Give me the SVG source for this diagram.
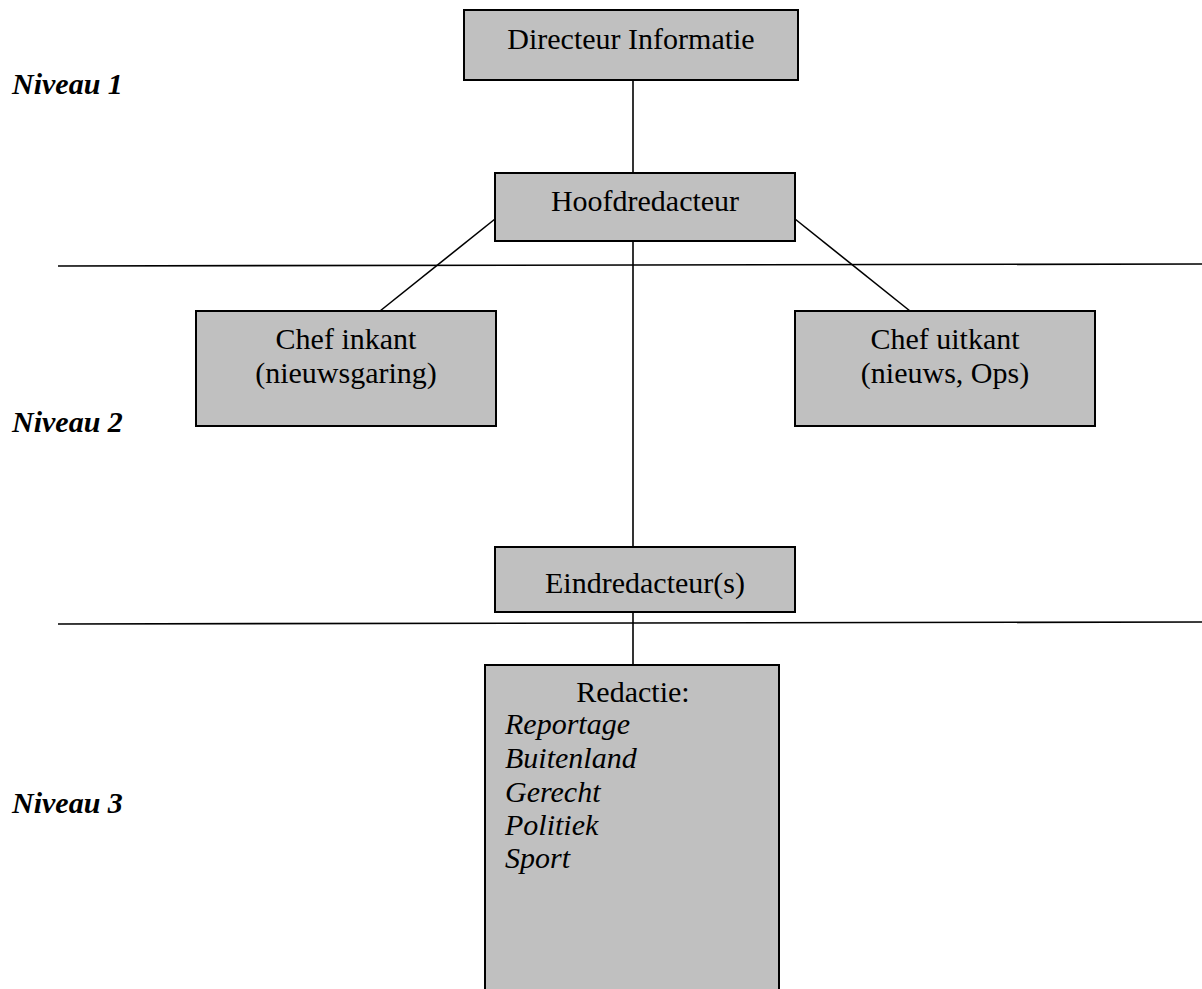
<svg xmlns="http://www.w3.org/2000/svg" width="1202" height="989" viewBox="0 0 1202 989">
<style>
.box{fill:#c0c0c0;stroke:#000;stroke-width:2}
.t{font-family:"Liberation Serif","Times New Roman",serif;font-size:30px;fill:#000}
.c{text-anchor:middle}
.i{font-style:italic}
.lvl{font-family:"Liberation Serif","Times New Roman",serif;font-size:30px;font-weight:bold;font-style:italic;fill:#000}
.ln{stroke:#000;stroke-width:1.6;fill:none}
</style>
<rect width="1202" height="989" fill="#fff"/>
<g id="levels">
<line class="ln" x1="58" y1="266" x2="1202" y2="264"/>
<line class="ln" x1="58" y1="624" x2="1202" y2="622"/>
<text class="lvl" x="12" y="94">Niveau 1</text>
<text class="lvl" x="12" y="432">Niveau 2</text>
<text class="lvl" x="12" y="813">Niveau 3</text>
</g>
<g id="connectors">
<line class="ln" x1="633" y1="80" x2="633" y2="173"/>
<line class="ln" x1="495" y1="219" x2="380" y2="311"/>
<line class="ln" x1="795" y1="219" x2="910" y2="311"/>
<line class="ln" x1="633" y1="241" x2="633" y2="547"/>
<line class="ln" x1="633" y1="612" x2="633" y2="665"/>
</g>
<g id="directeur">
<rect class="box" x="464" y="10" width="334" height="70"/>
<text class="t c" x="631" y="49">Directeur Informatie</text>
</g>
<g id="hoofdredacteur">
<rect class="box" x="495" y="173" width="300" height="68"/>
<text class="t c" x="645" y="211">Hoofdredacteur</text>
</g>
<g id="chef-inkant">
<rect class="box" x="196" y="311" width="300" height="115"/>
<text class="t c" x="346" y="349">Chef inkant</text>
<text class="t c" x="346" y="383">(nieuwsgaring)</text>
</g>
<g id="chef-uitkant">
<rect class="box" x="795" y="311" width="300" height="115"/>
<text class="t c" x="945" y="349">Chef uitkant</text>
<text class="t c" x="945" y="383">(nieuws, Ops)</text>
</g>
<g id="eindredacteur">
<rect class="box" x="495" y="547" width="300" height="65"/>
<text class="t c" x="645" y="593">Eindredacteur(s)</text>
</g>
<g id="redactie">
<rect class="box" x="485" y="665" width="294" height="340"/>
<text class="t c" x="633" y="702">Redactie:</text>
<text class="t i" x="505" y="734">Reportage</text>
<text class="t i" x="505" y="768">Buitenland</text>
<text class="t i" x="505" y="802">Gerecht</text>
<text class="t i" x="505" y="835">Politiek</text>
<text class="t i" x="505" y="868">Sport</text>
</g>
</svg>
